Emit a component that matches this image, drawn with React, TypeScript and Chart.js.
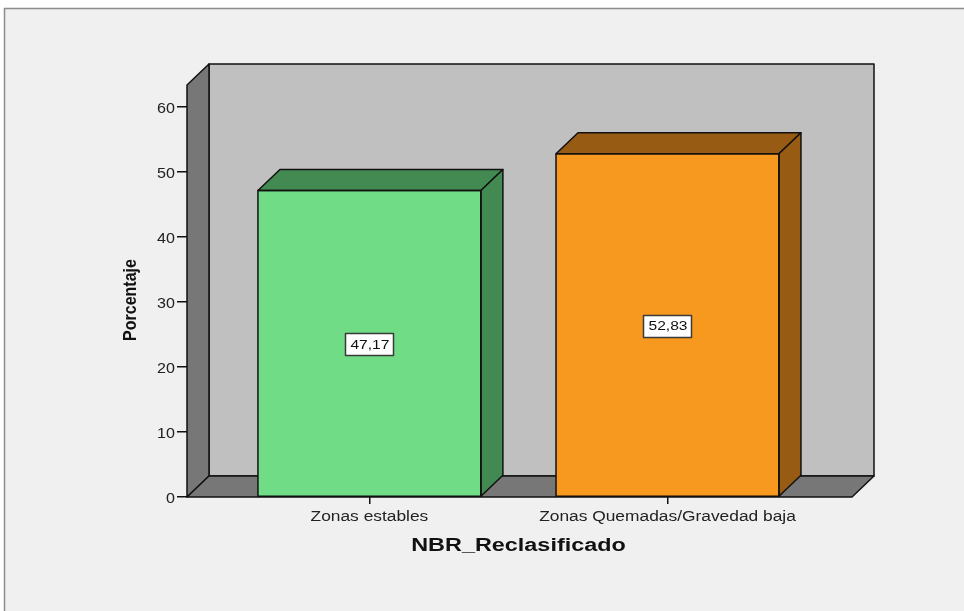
import React, { useEffect, useRef } from 'react';
import { Chart, registerables } from 'chart.js';

Chart.register(...registerables);

const categories = ['Zonas estables', 'Zonas Quemadas/Gravedad baja'];
const percentages = [47.17, 52.83];
const valueLabels = ['47,17', '52,83'];
const yTickValues = [0, 10, 20, 30, 40, 50, 60];
const xTickValues = [0, 1];
const frontColors = ['#70dd86', '#f8991f'];
const sideColors = ['#438a52', '#985b13'];
const xAxisTitle = 'NBR_Reclasificado';
const yAxisTitle = 'Porcentaje';

const DX = 22;
const DY = 21;
const FONT = 'Arial, "Liberation Sans", sans-serif';
const STRETCH = 1.27;

function stretchedText(
  ctx: CanvasRenderingContext2D,
  text: string,
  x: number,
  y: number,
  font: string,
  align: CanvasTextAlign,
  sx: number,
  color: string
) {
  ctx.save();
  ctx.translate(x, y);
  ctx.scale(sx, 1);
  ctx.font = font;
  ctx.fillStyle = color;
  ctx.textAlign = align;
  ctx.textBaseline = 'alphabetic';
  ctx.fillText(text, 0, 0);
  ctx.restore();
}

const threeDPlugin = {
  id: 'threeD',
  beforeDraw(chart: any) {
    const ctx = chart.ctx;
    const { left, right, top, bottom } = chart.chartArea;
    ctx.save();
    ctx.fillStyle = '#ffffff';
    ctx.fillRect(0, 0, chart.width, chart.height);
    ctx.fillStyle = '#f0f0f0';
    ctx.fillRect(4, 8, chart.width, chart.height);
    ctx.strokeStyle = '#8c8c8c';
    ctx.lineWidth = 1.5;
    ctx.beginPath();
    ctx.moveTo(4.5, chart.height);
    ctx.lineTo(4.5, 8.5);
    ctx.lineTo(chart.width, 8.5);
    ctx.stroke();

    ctx.lineWidth = 1.5;
    ctx.strokeStyle = '#111111';
    ctx.lineJoin = 'round';
    // back wall
    ctx.fillStyle = '#c0c0c0';
    ctx.beginPath();
    ctx.rect(left + DX, top - DY, right - left, bottom - top);
    ctx.fill();
    ctx.stroke();
    // left wall
    ctx.fillStyle = '#777777';
    ctx.beginPath();
    ctx.moveTo(left, top);
    ctx.lineTo(left + DX, top - DY);
    ctx.lineTo(left + DX, bottom - DY);
    ctx.lineTo(left, bottom);
    ctx.closePath();
    ctx.fill();
    ctx.stroke();
    // floor
    ctx.beginPath();
    ctx.moveTo(left, bottom);
    ctx.lineTo(left + DX, bottom - DY);
    ctx.lineTo(right + DX, bottom - DY);
    ctx.lineTo(right, bottom);
    ctx.closePath();
    ctx.fill();
    ctx.stroke();
    ctx.restore();
  },
  afterDatasetsDraw(chart: any) {
    const ctx = chart.ctx;
    const meta = chart.getDatasetMeta(0);
    ctx.save();
    ctx.lineWidth = 1.5;
    ctx.strokeStyle = '#111111';
    ctx.lineJoin = 'round';
    meta.data.forEach((bar: any, i: number) => {
      const { x, y, base, width } = bar.getProps(['x', 'y', 'base', 'width'], true);
      const l = x - width / 2;
      const r = x + width / 2;
      ctx.strokeStyle = '#111111';
      ctx.lineWidth = 1.5;
      ctx.fillStyle = sideColors[i];
      // top face
      ctx.beginPath();
      ctx.moveTo(l, y);
      ctx.lineTo(l + DX, y - DY);
      ctx.lineTo(r + DX, y - DY);
      ctx.lineTo(r, y);
      ctx.closePath();
      ctx.fill();
      ctx.stroke();
      // side face
      ctx.beginPath();
      ctx.moveTo(r, y);
      ctx.lineTo(r + DX, y - DY);
      ctx.lineTo(r + DX, base - DY);
      ctx.lineTo(r, base);
      ctx.closePath();
      ctx.fill();
      ctx.stroke();
      // front outline
      ctx.beginPath();
      ctx.rect(l, y, width, base - y);
      ctx.stroke();
      // value label
      const font = `12px ${FONT}`;
      ctx.font = font;
      const txt = valueLabels[i];
      const tw = ctx.measureText(txt).width * 1.3;
      const bw = Math.round(tw + 9);
      const bh = 22;
      const cy = (y + base) / 2 + 1;
      const bx = Math.round(x - bw / 2);
      const by = Math.round(cy - bh / 2);
      ctx.fillStyle = '#ffffff';
      ctx.fillRect(bx, by, bw, bh);
      ctx.strokeStyle = '#3a3a3a';
      ctx.lineWidth = 1.5;
      ctx.strokeRect(bx + 0.5, by + 0.5, bw, bh);
      stretchedText(ctx, txt, x + 0.5, cy + 4.5, font, 'center', 1.3, '#111111');
    });
    ctx.restore();
  },
  afterDraw(chart: any) {
    const ctx = chart.ctx;
    const xs = chart.scales.x;
    const ys = chart.scales.y;
    const { left, right, bottom } = chart.chartArea;
    // x tick labels
    xTickValues.forEach((v, i) => {
      const px = xs.getPixelForValue(v);
      stretchedText(ctx, categories[i], px, bottom + 24, `14px ${FONT}`, 'center', 1.24, '#222222');
    });
    // y tick labels
    yTickValues.forEach((v) => {
      const py = ys.getPixelForValue(v);
      stretchedText(ctx, String(v), left - 12, py + 6, `14px ${FONT}`, 'right', 1.15, '#222222');
    });
    // x title
    stretchedText(ctx, xAxisTitle, (left + right) / 2 - 1, 551, `bold 18px ${FONT}`, 'center', 1.3, '#111111');
    // y title (rotated)
    ctx.save();
    ctx.translate(136, (chart.chartArea.top + bottom) / 2 + 9);
    ctx.rotate(-Math.PI / 2);
    ctx.scale(1, 1.2);
    ctx.font = `bold 16px ${FONT}`;
    ctx.fillStyle = '#111111';
    ctx.textAlign = 'center';
    ctx.textBaseline = 'alphabetic';
    ctx.fillText(yAxisTitle, 0, 0);
    ctx.restore();
  },
};

export default function App() {
  const canvasRef = useRef<HTMLCanvasElement | null>(null);

  useEffect(() => {
    const canvas = canvasRef.current;
    if (!canvas) return;
    const chart = new Chart(canvas, {
      type: 'bar',
      data: {
        datasets: [
          {
            data: percentages.map((v, i) => ({ x: xTickValues[i], y: v })),
            backgroundColor: frontColors,
            borderColor: '#111111',
            borderWidth: 0,
            barPercentage: 0.748,
            categoryPercentage: 1,
          },
        ],
      },
      options: {
        animation: false,
        responsive: false,
        devicePixelRatio: 1,
        layout: { padding: { left: 0, top: 85, right: 112, bottom: 0 } },
        plugins: {
          legend: { display: false },
          tooltip: { enabled: false },
        },
        scales: {
          x: {
            type: 'linear',
            position: 'bottom',
            offset: false,
            min: -0.612,
            max: 1.619,
            afterBuildTicks: (s: any) => {
              s.ticks = xTickValues.map((v) => ({ value: v }));
            },
            afterFit: (s: any) => {
              s.height = 114;
            },
            ticks: { display: false },
            grid: {
              offset: false,
              drawOnChartArea: false,
              drawTicks: true,
              tickLength: 7,
              color: '#111111',
              lineWidth: 1.5,
            },
            border: { display: false },
            title: { display: false },
          },
          y: {
            type: 'linear',
            position: 'left',
            min: 0,
            max: 63.4,
            afterBuildTicks: (s: any) => {
              s.ticks = yTickValues.map((v) => ({ value: v }));
            },
            afterFit: (s: any) => {
              s.width = 187;
            },
            ticks: { display: false },
            grid: {
              drawOnChartArea: false,
              drawTicks: true,
              tickLength: 10,
              color: '#111111',
              lineWidth: 1.5,
            },
            border: { display: false },
            title: { display: false },
          },
        },
      },
      plugins: [threeDPlugin],
    } as any);
    return () => chart.destroy();
  }, []);

  return (
    <div style={{ position: 'fixed', left: 0, top: 0, width: 964, height: 611 }}>
      <canvas ref={canvasRef} width={964} height={611} style={{ display: 'block' }} />
    </div>
  );
}
